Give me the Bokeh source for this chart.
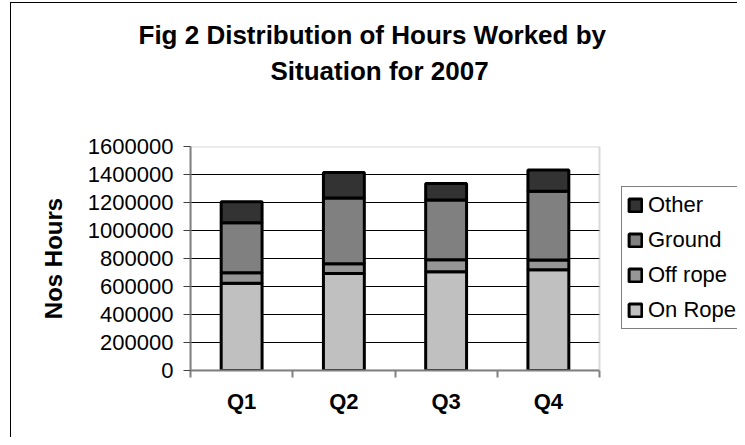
from bokeh.plotting import figure
from bokeh.models import (Range1d, FixedTicker, NumeralTickFormatter, Legend, LegendItem,
                          ColumnDataSource, Title, BoxAnnotation, LinearAxis)
from bokeh.embed import file_html
from bokeh.resources import INLINE

# ---- data ----
quarters = ["Q1", "Q2", "Q3", "Q4"]
on_rope = [624000, 693000, 705000, 719000]
off_rope = [74000, 69000, 86000, 71000]
ground = [357000, 471000, 426000, 490000]
other = [150000, 181000, 119000, 152000]
series_names = ["On Rope", "Off rope", "Ground", "Other"]
series_colors = ["#C0C0C0", "#969696", "#808080", "#333333"]
y_max = 1600000
y_ticks = [0, 200000, 400000, 600000, 800000, 1000000, 1200000, 1400000, 1600000]
title_lines = ["Fig  2  Distribution of Hours Worked by", "Situation for 2007"]
y_title = "Nos Hours"

FONT = "Liberation Sans"

# ---- layout (pixels) ----
W, H = 737, 437
AREA_LEFT, AREA_RIGHT = 190, 599     # plot area, horizontally
AREA_TOP, AREA_BOTTOM = 146, 370     # plot area, vertically
TITLE_STARTS = [138, 270]            # left edge of each title line
n = len(quarters)
x_end = n * (W - AREA_LEFT) / (AREA_RIGHT - AREA_LEFT)

xpos = [i + 0.5 for i in range(n)]
source = ColumnDataSource(dict(x=xpos, on_rope=on_rope, off_rope=off_rope,
                               ground=ground, other=other))

p = figure(width=W, height=H, output_backend="svg", toolbar_location=None,
           x_range=Range1d(0, x_end), y_range=Range1d(0, y_max),
           min_border_left=AREA_LEFT, min_border_right=0, min_border_top=AREA_TOP,
           min_border_bottom=H - AREA_BOTTOM,
           styles={
               "background-color": "white",
               "background-image": "linear-gradient(#000,#000), linear-gradient(#000,#000)",
               "background-size": "1px 100%, 740px 1px",
               "background-position": "10px 2px, 10px 2px",
               "background-repeat": "no-repeat",
           })
p.background_fill_color = None
p.border_fill_color = None
p.outline_line_color = None

renderers = p.vbar_stack(["on_rope", "off_rope", "ground", "other"], x="x", width=0.4,
                         source=source, fill_color=series_colors, line_color="black",
                         line_width=3)

# grid
p.xgrid.visible = False
p.ygrid.grid_line_color = "black"
p.ygrid.grid_line_width = 1
p.ygrid.ticker = FixedTicker(ticks=y_ticks)

# y axis
ya = p.left[0]
ya.ticker = FixedTicker(ticks=y_ticks)
ya.formatter = NumeralTickFormatter(format="0")
ya.major_label_text_font = FONT
ya.major_label_text_font_size = "22px"
ya.major_label_text_color = "black"
ya.major_tick_out = 7
ya.major_tick_in = 0
ya.major_tick_line_color = "#404040"
ya.minor_tick_line_color = None
ya.major_label_standoff = 10
ya.axis_line_color = "#808080"
ya.axis_line_width = 2
ya.axis_label = y_title
ya.axis_label_text_font = FONT
ya.axis_label_text_font_style = "bold"
ya.axis_label_text_font_size = "24px"
ya.axis_label_text_color = "black"
ya.axis_label_standoff = 18

# x axis: labels at centres, tick marks at category boundaries
xa = p.below[0]
xa.bounds = (0, n)
xa.ticker = FixedTicker(ticks=xpos, minor_ticks=list(range(n + 1)))
xa.major_label_overrides = {x: q for x, q in zip(xpos, quarters)}
xa.major_label_text_font = FONT
xa.major_label_text_font_style = "bold"
xa.major_label_text_font_size = "22px"
xa.major_label_text_color = "black"
xa.major_tick_out = 0
xa.major_tick_in = 0
xa.minor_tick_out = 7
xa.minor_tick_in = 0
xa.minor_tick_line_color = "#808080"
xa.minor_tick_line_width = 2
xa.major_label_standoff = 11
xa.axis_line_color = "#808080"
xa.axis_line_width = 2

# hide the grid lines to the right of the plot area, then draw the plot-area border
p.add_layout(BoxAnnotation(left=n, fill_color="white", fill_alpha=1, line_color=None))
p.add_layout(BoxAnnotation(left=0, right=n, bottom=0, top=y_max, fill_color=None,
                           line_color="#808080", line_width=2))

# legend (reverse order, as in the reference), inside the frame to the right
items = [LegendItem(label=nm, renderers=[r]) for nm, r in zip(series_names, renderers)][::-1]
legend = Legend(items=items, location=(621 - AREA_LEFT, AREA_BOTTOM - 329))
legend.label_text_font = FONT
legend.label_text_font_size = "22px"
legend.label_text_color = "black"
legend.glyph_width = 16
legend.glyph_height = 16
legend.label_height = 20
legend.spacing = 9
legend.padding = 5
legend.margin = 0
legend.label_standoff = 5
legend.border_line_color = "black"
legend.border_line_width = 1
legend.background_fill_color = "white"
p.add_layout(legend)

# spacer between the plot area and the chart title
p.add_layout(LinearAxis(ticker=FixedTicker(ticks=[]), axis_line_color=None,
                        major_tick_out=0, major_tick_in=0, minor_tick_out=0,
                        minor_tick_in=0, major_label_standoff=0,
                        axis_label="\u00a0", axis_label_standoff=28,
                        axis_label_text_font=FONT, axis_label_text_font_size="26px"),
             "above")

# two-line chart title (left aligned, shifted by offset from the frame's left edge)
common = dict(align="left", text_font=FONT, text_font_style="bold",
              text_font_size="26px", text_color="black")
t2 = Title(text=title_lines[1], offset=TITLE_STARTS[1] - AREA_LEFT, **common)
t1 = Title(text=title_lines[0], offset=TITLE_STARTS[0] - AREA_LEFT, **common)
if "standoff" in Title.properties():
    t2.standoff = 0
    t1.standoff = 8
p.add_layout(t2, "above")
p.title = t1

open("out.html", "w").write(file_html(p, INLINE))
